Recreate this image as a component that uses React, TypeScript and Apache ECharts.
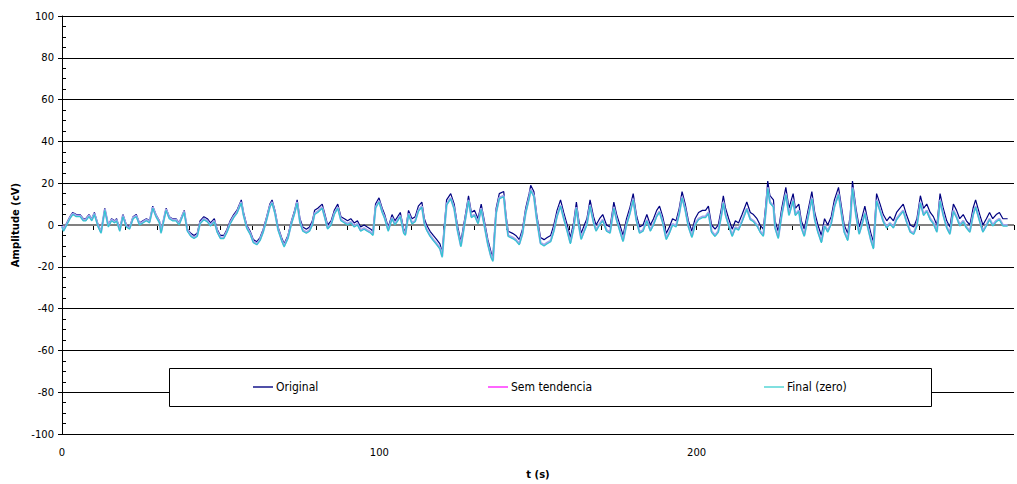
import React, { useEffect, useRef } from "react";
import * as echarts from "echarts";

const times = [
  0, 0.5, 1.5, 2.5, 3.4, 4.5, 5.7, 6.7, 7.5, 8.5, 9.4, 10.2, 11.4, 12.3, 13.5, 14.6, 15.6, 16.6, 17.2, 18.2, 19.2, 20.3, 21.3, 22.4, 23.4, 24.4, 25.5, 26.6, 27.6, 28.6, 29.6, 30.7, 31.2, 32.8, 33.8, 34.8, 35.9, 36.9, 38.5, 39.5,
  40.6, 41.6, 42.6, 43.5, 44.7, 45.8, 46.8, 48, 48.9, 49.9, 51, 52, 53, 54.1, 55.1, 56.5, 57.2, 58.2, 59.3, 60.3, 61.4, 62.4, 63.4, 64.5, 65.5, 66.2, 67.1, 68.1, 69.2, 70, 71.2, 72.3, 73.3, 74.1,
  75, 75.9, 77, 78, 78.9, 79.6, 80.6, 82, 82.7, 83.7, 84.8, 85.8, 86.9, 87.9, 89, 90, 91, 92.1, 93.1, 94.1, 95.2, 96.2, 97.3, 98, 98.8, 99.9, 100.9, 101.7, 102.8, 104, 104.9, 105.8, 106.6, 107.7, 108.2, 109.2,
  110.3, 111.3, 112.3, 113.4, 114.2, 114.9, 116, 117, 118.1, 119.1, 119.8, 120.5, 121.2, 122.5, 123.6, 124.6, 125.7, 126.9, 128.1, 129, 130, 131.1, 132.1, 133.1, 134.2, 135.2, 135.8, 136.8, 137.8, 139.2, 139.9, 140.6, 142, 143, 144.1, 145.1, 146.1, 147.2, 147.7, 148.7, 149.6,
  150.8, 151.9, 152.9, 154, 155, 156, 157.1, 158.1, 159.2, 160.2, 161.2, 162.1, 162.8, 163.6, 164.6, 165.4, 166.4, 167.5, 168.3, 169.4, 170.4, 171.6, 172.7, 173.9, 174.8, 175.8, 176.8, 177.9, 178.9, 180, 181, 182, 183.1, 184.3, 185.4, 186.4, 187.4, 188.3, 189.3, 190.4, 191.4, 192.4, 193.5, 194.5, 195.4, 196.4, 197.4, 198.5, 199.5,
  200.6, 201.8, 202.8, 203.7, 204.7, 205.8, 206.8, 207.8, 208.4, 209.1, 210.1, 211.2, 212.2, 213.2, 214.3, 215.8, 216.9, 217.9, 219, 220, 221, 221.8, 222.4, 223.1, 224.2, 224.7, 225.7, 226.8, 228.1, 229.1, 230.4, 231.1, 232.2, 233, 233.9, 235.1, 236.3, 237.2, 238.2, 239.3, 240.3, 241.3, 242.4, 243.4, 244.7, 245.5, 246.5, 247.6, 248.4, 249.1, 250.2, 251.2, 252, 253, 253.8, 254.9, 255.7, 256.7, 257.8, 258.8, 259.9, 260.9, 262, 263, 264, 265.1, 266.1, 267.3, 268.4, 269.4, 270.5, 271.5, 272.5, 273.6, 274.6, 275.7, 276.7, 277.7, 278.8, 279.8, 280.9, 281.9, 282.9, 284, 285, 286.1, 287.1, 287.9, 289.2, 290.2, 291.3, 292.3, 293.3, 294.4, 295.4, 296.5, 298,
];

const original = [
  0, -2, 1, 4, 6, 5, 5, 3, 3, 5, 3, 6, 0, -3, 8, 0, 3, 2, 3, -2, 5, 0, -1, 4, 5, 1, 2, 3, 2, 9, 5, 2, -3, 8, 4, 3, 3, 1, 7, -2,
  -4, -5, -4, 2, 4, 3, 1, 3, -2, -5, -5, -2, 2, 5, 7, 12, 6, 0, -3, -7, -8, -6, -2, 4, 10, 12, 7, -1, -6, -9, -5, 2, 7, 12,
  3, -1, -2, -1, 2, 7, 8, 10, 6, 0, 2, 7, 10, 4, 3, 2, 3, 1, 2, -1, 0, -1, -2, -3, 10, 13, 8, 5, -1, 5, 2, 4, 6, -2, -3, 7,
  3, 4, 9, 11, 3, 0, -3, -5, -7, -9, -13, 0, 12, 15, 10, 0, -8, 3, 14, 6, 7, 3, 10, 2, -7, -13, -15, 8, 15, 16, 5, -3, -4, -5, -7, -2, 8, 15, 19, 16, 5,
  -6, -7, -6, -5, 0, 7, 12, 6, 0, -6, 1, 11, 3, -4, 0, 3, 12, 4, 0, 3, 5, 0, -1, 11, 5, 0, -5, 3, 8, 15, 5, -1, 0, 5, 0, 3, 7, 9, 4, -4, -1, 3, 2, 8, 16, 10, 2, -3, 3,
  6, 7, 7, 9, 0, -2, 0, 8, 14, 8, 3, -2, 2, 1, 5, 11, 6, 5, 3, 0, -2, 10, 21, 14, 12, 2, -3, 8, 18, 8, 15, 8, 10, 2, -2, 7, 16, 6, 0, -5, 3, 0, 4, 12, 18, 10, 0, -4, 5, 21, 8, -1, 3, 9, 3, -4, -8, 15, 10, 5, 2, 4, 2, 6, 8, 10, 5, 0, -1, 3, 14, 8, 10, 6, 4, 0, 15, 8, 2, -1, 10, 7, 3, 5, 2, 0, 8, 12, 5, 0, 3, 6, 3, 5, 6, 3, 3,
];

const semTendencia = [
  -0.5, -2.5, 0.5, 3.5, 5.5, 4.5, 4.5, 2.5, 2.5, 4.5, 2.5, 5.5, -0.5, -3.5, 7.5, -0.5, 2.5, 1.5, 2.5, -2.5, 4.5, -0.5, -1.5, 3.5, 4.5, 0.5, 1.5, 2.5, 1.5, 8.5, 4.5, 1.5, -3.5, 7.5, 3.5, 2.5, 2.5, 0.5, 6.5, -2.5,
  -5, -6, -5, 1, 3, 2, 0, 2, -3, -6, -6, -3, 1, 4, 6, 11, 5, -1, -4, -8, -9, -7, -3, 3, 9, 11, 6, -2, -7, -10, -6, 1, 6, 11,
  1.5, -2.5, -3.5, -2.5, 0.5, 5.5, 6.5, 8.5, 4.5, -1.5, 0.5, 5.5, 8.5, 2.5, 1.5, 0.5, 1.5, -0.5, 0.5, -2.5, -1.5, -2.5, -3.5, -4.5, 8.5, 11.5, 6.5, 3.5, -2.5, 3.5, 0.5, 2.5, 4.5, -3.5, -4.5, 5.5,
  1, 2, 7, 9, 1, -2, -5, -7, -9, -11, -15, -2, 10, 13, 8, -2, -10, 1, 12, 4, 5, 1, 8, 0, -9, -15, -17, 6, 13, 14, 3, -5, -6, -7, -9, -4, 6, 13, 17, 14, 3,
  -8.5, -9.5, -8.5, -7.5, -2.5, 4.5, 9.5, 3.5, -2.5, -8.5, -1.5, 8.5, 0.5, -6.5, -2.5, 0.5, 9.5, 1.5, -2.5, 0.5, 2.5, -2.5, -3.5, 8.5, 2.5, -2.5, -7.5, 0.5, 5.5, 12.5, 2.5, -3.5, -2.5, 2.5, -2.5, 0.5, 4.5, 6.5, 1.5, -6.5, -3.5, 0.5, -0.5, 5.5, 13.5, 7.5, -0.5, -5.5, 0.5,
  3, 4, 4, 6, -3, -5, -3, 5, 11, 5, 0, -5, -1, -2, 2, 8, 3, 2, 0, -3, -5, 7, 18, 11, 9, -1, -6, 5, 15, 5, 12, 5, 7, -1, -5, 4, 13, 3, -3, -8, 0, -3, 1, 9, 15, 7, -3, -7, 2, 18, 5, -4, 0, 6, 0, -7, -11, 12, 7, 2, -1, 1, -1, 3, 5, 7, 2, -3, -4, 0, 11, 5, 7, 3, 1, -3, 12, 5, -1, -4, 7, 4, 0, 2, -1, -3, 5, 9, 2, -3, 0, 3, 0, 2, 3, 0, 0,
];

const finalZero = [
  -1, -3, 0, 3, 5, 4, 4, 2, 2, 4, 2, 5, -1, -4, 7, -1, 2, 1, 2, -3, 4, -1, -2, 3, 4, 0, 1, 2, 1, 8, 4, 1, -4, 7, 3, 2, 2, 0, 6, -3,
  -5.5, -6.5, -5.5, 0.5, 2.5, 1.5, -0.5, 1.5, -3.5, -6.5, -6.5, -3.5, 0.5, 3.5, 5.5, 10.5, 4.5, -1.5, -4.5, -8.5, -9.5, -7.5, -3.5, 2.5, 8.5, 10.5, 5.5, -2.5, -7.5, -10.5, -6.5, 0.5, 5.5, 10.5,
  1, -3, -4, -3, 0, 5, 6, 8, 4, -2, 0, 5, 8, 2, 1, 0, 1, -1, 0, -3, -2, -3, -4, -5, 8, 11, 6, 3, -3, 3, 0, 2, 4, -4, -5, 5,
  0.5, 1.5, 6.5, 8.5, 0.5, -2.5, -5.5, -7.5, -9.5, -11.5, -15.5, -2.5, 9.5, 12.5, 7.5, -2.5, -10.5, 0.5, 11.5, 3.5, 4.5, 0.5, 7.5, -0.5, -9.5, -15.5, -17.5, 5.5, 12.5, 13.5, 2.5, -5.5, -6.5, -7.5, -9.5, -4.5, 5.5, 12.5, 16.5, 13.5, 2.5,
  -9, -10, -9, -8, -3, 4, 9, 3, -3, -9, -2, 8, 0, -7, -3, 0, 9, 1, -3, 0, 2, -3, -4, 8, 2, -3, -8, 0, 5, 12, 2, -4, -3, 2, -3, 0, 4, 6, 1, -7, -4, 0, -1, 5, 13, 7, -1, -6, 0,
  2.5, 3.5, 3.5, 5.5, -3.5, -5.5, -3.5, 4.5, 10.5, 4.5, -0.5, -5.5, -1.5, -2.5, 1.5, 7.5, 2.5, 1.5, -0.5, -3.5, -5.5, 6.5, 17.5, 10.5, 8.5, -1.5, -6.5, 4.5, 14.5, 4.5, 11.5, 4.5, 6.5, -1.5, -5.5, 3.5, 12.5, 2.5, -3.5, -8.5, -0.5, -3.5, 0.5, 8.5, 14.5, 6.5, -3.5, -7.5, 1.5, 17.5, 4.5, -4.5, -0.5, 5.5, -0.5, -7.5, -11.5, 11.5, 6.5, 1.5, -1.5, 0.5, -1.5, 2.5, 4.5, 6.5, 1.5, -3.5, -4.5, -0.5, 10.5, 4.5, 6.5, 2.5, 0.5, -3.5, 11.5, 4.5, -1.5, -4.5, 6.5, 3.5, -0.5, 1.5, -1.5, -3.5, 4.5, 8.5, 1.5, -3.5, -0.5, 2.5, -0.5, 1.5, 2.5, -0.5, -0.5,
];

const xTickLabels = [0, 100, 200];
const seriesNames = ["Original", "Sem tendencia", "Final (zero)"];
const seriesColors = ["#000080", "#A4A4EC", "#33C6D0"];
const seriesWidths = [1.2, 2.2, 1.2];
const legendColors = ["#5050A8", "#FF66FF", "#80E0E0"];
const legendLefts = [253, 488, 764];

const axisFont = "DejaVu Sans, Verdana, sans-serif";
const legendFont = "Liberation Sans Narrow, DejaVu Sans Condensed, Roboto, sans-serif";

export default function App() {
  const ref = useRef<HTMLDivElement>(null);
  useEffect(() => {
    const chart = echarts.init(ref.current as HTMLDivElement, null, { renderer: "svg" });
    const values = [original, semTendencia, finalZero];
    const toData = (arr: number[]) => times.map((t, i) => [t, arr[i]]);
    chart.setOption({
      animation: false,
      grid: { left: 62, right: -6, top: 16, bottom: 47 },
      xAxis: {
        type: "value",
        min: 0,
        max: 300,
        interval: 10,
        axisLine: { lineStyle: { color: "#000", width: 1 } },
        axisTick: { length: 5, lineStyle: { color: "#000" } },
        axisLabel: {
          formatter: (v: number) => (xTickLabels.indexOf(v) >= 0 ? String(v) : ""),
          color: "#000",
          fontSize: 10,
          fontFamily: axisFont,
          margin: 13,
        },
        splitLine: { show: false },
        name: "t (s)",
        nameLocation: "middle",
        nameGap: 35,
        nameTextStyle: { fontWeight: "bold", fontSize: 10, fontFamily: axisFont, color: "#000" },
      },
      yAxis: [
        {
          type: "value",
          min: -100,
          max: 100,
          interval: 20,
          axisLine: { show: true, lineStyle: { color: "#000" } },
          axisTick: { show: true, length: 4, lineStyle: { color: "#000" } },
          axisLabel: { color: "#000", fontSize: 10, fontFamily: axisFont, margin: 8 },
          splitLine: { show: true, lineStyle: { color: "#000", width: 1 } },
          name: "Amplitude (cV)",
          nameLocation: "middle",
          nameGap: 40,
          nameTextStyle: { fontWeight: "bold", fontSize: 10, fontFamily: axisFont, color: "#000" },
        },
        {
          type: "value",
          min: -100,
          max: 100,
          interval: 5,
          position: "left",
          offset: 0,
          axisLine: { show: false },
          axisTick: { show: true, inside: true, length: 4, lineStyle: { color: "#000" } },
          axisLabel: { show: false },
          splitLine: { show: false },
        },
      ],
      legend: seriesNames.map((name, i) => ({
        data: [{ name, icon: "rect", itemStyle: { color: legendColors[i] } }],
        left: legendLefts[i],
        top: 381,
        padding: 0,
        itemWidth: 20,
        itemHeight: 2,
        itemGap: 0,
        z: 10,
        textStyle: { fontSize: 12, fontFamily: legendFont, color: "#000", padding: [0, 0, 0, -2] },
      })),
      graphic: [
        {
          type: "rect",
          z: 5,
          shape: { x: 169.5, y: 368.5, width: 762, height: 38 },
          style: { fill: "#fff", stroke: "#000", lineWidth: 1 },
        },
      ],
      series: [
        {
          type: "line",
          name: "zero",
          data: [[0, 0], [300, 0]],
          symbol: "none",
          silent: true,
          z: 1,
          lineStyle: { color: "#808080", width: 2 },
        },
        ...seriesNames.map((name, i) => ({
          type: "line",
          name,
          data: toData(values[i]),
          symbol: "none",
          showSymbol: false,
          z: 2 + i,
          color: seriesColors[i],
          lineStyle: { color: seriesColors[i], width: seriesWidths[i] },
        })),
      ],
    });
    return () => chart.dispose();
  }, []);
  return (
    <div
      ref={ref}
      style={{ position: "fixed", left: 0, top: 0, width: 1017, height: 484, background: "#fff" }}
    />
  );
}
